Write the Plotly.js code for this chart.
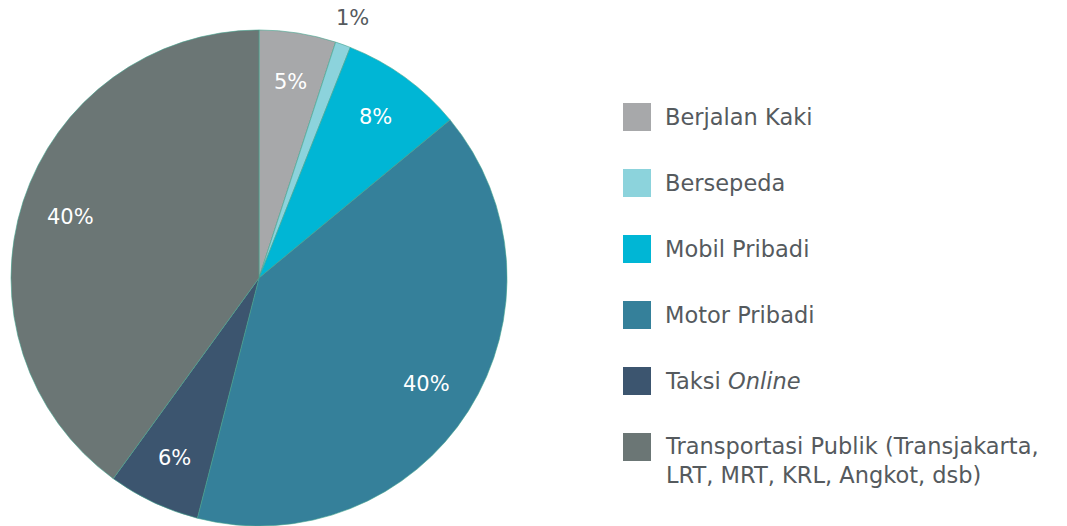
<!DOCTYPE html>
<html>
<head>
<meta charset="utf-8">
<script src="https://cdn.plot.ly/plotly-3.0.1.min.js"></script>
<style>html,body{margin:0;padding:0;background:#fff;}#chart{width:1067px;height:526px;}</style>
</head>
<body>
<div id="chart"></div>
<script>
const categories = ["Berjalan Kaki", "Bersepeda", "Mobil Pribadi", "Motor Pribadi", "Taksi Online", "Transportasi Publik (Transjakarta, LRT, MRT, KRL, Angkot, dsb)"];
const legendLabels = ["Berjalan Kaki", "Bersepeda", "Mobil Pribadi", "Motor Pribadi", "Taksi <i>Online</i>", "Transportasi Publik (Transjakarta,<br>LRT, MRT, KRL, Angkot, dsb)"];
const values = [5, 1, 8, 40, 6, 40];
const colors = ["#a7a8aa", "#8cd3dc", "#00b6d5", "#35809a", "#3c556f", "#6b7675"];
const labelOutside = [false, true, false, false, false, false];

const W = 1067, H = 526;
const FONT = "DejaVu Sans, Verdana, sans-serif";
const dom = {x: [0.0094, 0.4761], y: [0, 0.943]};

const trace = {
  type: "pie",
  labels: categories,
  values: values,
  sort: false,
  direction: "clockwise",
  rotation: 0,
  marker: {colors: colors, line: {color: "#45a58e", width: 0.6}},
  textinfo: "none",
  domain: dom,
  showlegend: false,
  hoverinfo: "label+percent"
};

const shapes = [];
const annotations = [];

// percentage labels along each slice's mid-angle
const total = values.reduce((a, b) => a + b, 0);
const cxPx = (dom.x[0] + dom.x[1]) / 2 * W;
const cyPx = (dom.y[0] + dom.y[1]) / 2 * H; // from bottom
const R = Math.min((dom.x[1] - dom.x[0]) * W, (dom.y[1] - dom.y[0]) * H) / 2;
let cum = 0;
values.forEach((v, i) => {
  const mid = (cum + v / 2) / total * 2 * Math.PI;
  cum += v;
  const r = labelOutside[i] ? 1.115 * R : 0.8 * R;
  annotations.push({xref: "paper", yref: "paper",
    x: (cxPx + r * Math.sin(mid)) / W, y: (cyPx + r * Math.cos(mid)) / H,
    xanchor: "center", yanchor: "middle", showarrow: false,
    text: Math.round(v / total * 100) + "%",
    font: {family: FONT, size: 21, color: labelOutside[i] ? "#555a5e" : "#ffffff"}});
});

const legendY0 = 117, legendStep = 66;
categories.forEach((c, i) => {
  const cy = legendY0 + i * legendStep;
  shapes.push({type: "rect", xref: "paper", yref: "paper",
    x0: 623/W, x1: 651/W, y0: 1 - (cy + 14)/H, y1: 1 - (cy - 14)/H,
    fillcolor: colors[i], line: {width: 0}});
  const multi = legendLabels[i].indexOf("<br>") >= 0;
  annotations.push({xref: "paper", yref: "paper", x: 663/W,
    y: multi ? 1 - (cy - 16)/H : 1 - cy/H,
    xanchor: "left", yanchor: multi ? "top" : "middle", align: "left",
    text: legendLabels[i], showarrow: false,
    font: {family: FONT, size: 22.5, color: "#555a5e"}});
});

const layout = {
  width: W, height: H,
  margin: {l: 0, r: 0, t: 0, b: 0},
  paper_bgcolor: "#ffffff",
  shapes: shapes,
  annotations: annotations,
  showlegend: false
};
Plotly.newPlot("chart", [trace], layout, {displayModeBar: false, staticPlot: true});
</script>
</body>
</html>
